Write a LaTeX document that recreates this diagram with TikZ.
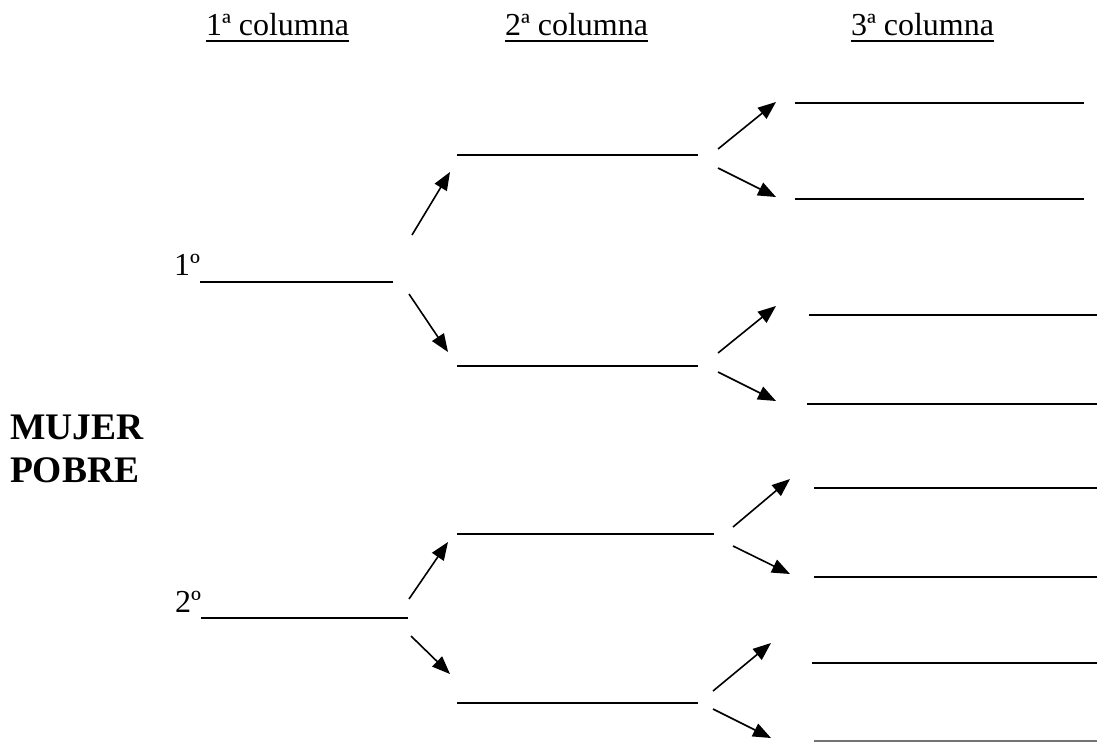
\documentclass[tikz,border=0pt]{standalone}
\usepackage{fontspec}
\setmainfont{Liberation Serif}
\usetikzlibrary{arrows.meta}

\tikzset{
  txt/.style={inner sep=0pt, outer sep=0pt, font=\fontsize{32}{36}\selectfont},
  title/.style={inner sep=0pt, outer sep=0pt, align=left, font=\fontsize{37.5}{43}\selectfont\bfseries},
  blank/.style={line width=2pt},
  arr/.style={line width=1.6pt, -{Triangle[length=18pt,width=14pt]}}
}

\begin{document}
\begin{tikzpicture}[x=1pt, y=-1pt]
        \useasboundingbox (0,0) rectangle (1097,742);

        % Column headers
        \node[txt, anchor=base west] (h1) at (206,35) {1ª columna};
        \node[txt, anchor=base west] (h2) at (505,35) {2ª columna};
        \node[txt, anchor=base west] (h3) at (851,35) {3ª columna};
        \draw[line width=2pt] ([yshift=-6pt]h1.base west) -- ([yshift=-6pt]h1.base east);
        \draw[line width=2pt] ([yshift=-6pt]h2.base west) -- ([yshift=-6pt]h2.base east);
        \draw[line width=2pt] ([yshift=-6pt]h3.base west) -- ([yshift=-6pt]h3.base east);

        % Main label
        \node[title, anchor=base west] (mp) at (10,482) {MUJER\\POBRE};

        % 1st column
        \node[txt, anchor=base east] (n1) at (200,275) {1º};
        \node[txt, anchor=base east] (n2) at (201,612) {2º};
        \draw[blank] (n1.base east |- 0,282) coordinate (c1a) -- (393,282);
        \draw[blank] (n2.base east |- 0,618) coordinate (c1b) -- (408,618);

        % 2nd column
        \draw[blank] (457,155) coordinate (c2a) -- (698,155);
        \draw[blank] (457,366) coordinate (c2b) -- (698,366);
        \draw[blank] (457,534) coordinate (c2c) -- (714,534);
        \draw[blank] (457,703) coordinate (c2d) -- (698,703);

        % 3rd column
        \draw[blank] (795,103) coordinate (c3a) -- (1084,103);
        \draw[blank] (795,199) coordinate (c3b) -- (1084,199);
        \draw[blank] (809,315) coordinate (c3c) -- (1097,315);
        \draw[blank] (807,404) coordinate (c3d) -- (1097,404);
        \draw[blank] (814,488) coordinate (c3e) -- (1097,488);
        \draw[blank] (814,577) coordinate (c3f) -- (1097,577);
        \draw[blank] (812,663) coordinate (c3g) -- (1097,663);
        \draw[blank, black!55] (814,741) coordinate (c3h) -- (1097,741);

        % Arrows 1st -> 2nd column
        \path (412,235) coordinate (a1s) (450,172) coordinate (a1t)
              (409,294) coordinate (a2s) (448,352) coordinate (a2t)
              (409,599) coordinate (a3s) (448,542) coordinate (a3t)
              (411,636) coordinate (a4s) (450,674) coordinate (a4t);
        \draw[arr] (a1s) -- (a1t);
        \draw[arr] (a2s) -- (a2t);
        \draw[arr] (a3s) -- (a3t);
        \draw[arr] (a4s) -- (a4t);

        % Arrows 2nd -> 3rd column
        \path (718,149) coordinate (b1s) (776,102) coordinate (b1t)
              (718,168) coordinate (b2s) (776,197) coordinate (b2t)
              (718,353) coordinate (b3s) (776,306) coordinate (b3t)
              (718,372) coordinate (b4s) (776,401) coordinate (b4t)
              (733,527) coordinate (b5s) (790,479) coordinate (b5t)
              (733,546) coordinate (b6s) (790,574) coordinate (b6t)
              (713,691) coordinate (b7s) (771,643) coordinate (b7t)
              (713,709) coordinate (b8s) (771,738) coordinate (b8t);
        \draw[arr] (b1s) -- (b1t);
        \draw[arr] (b2s) -- (b2t);
        \draw[arr] (b3s) -- (b3t);
        \draw[arr] (b4s) -- (b4t);
        \draw[arr] (b5s) -- (b5t);
        \draw[arr] (b6s) -- (b6t);
        \draw[arr] (b7s) -- (b7t);
        \draw[arr] (b8s) -- (b8t);
\end{tikzpicture}
\end{document}
